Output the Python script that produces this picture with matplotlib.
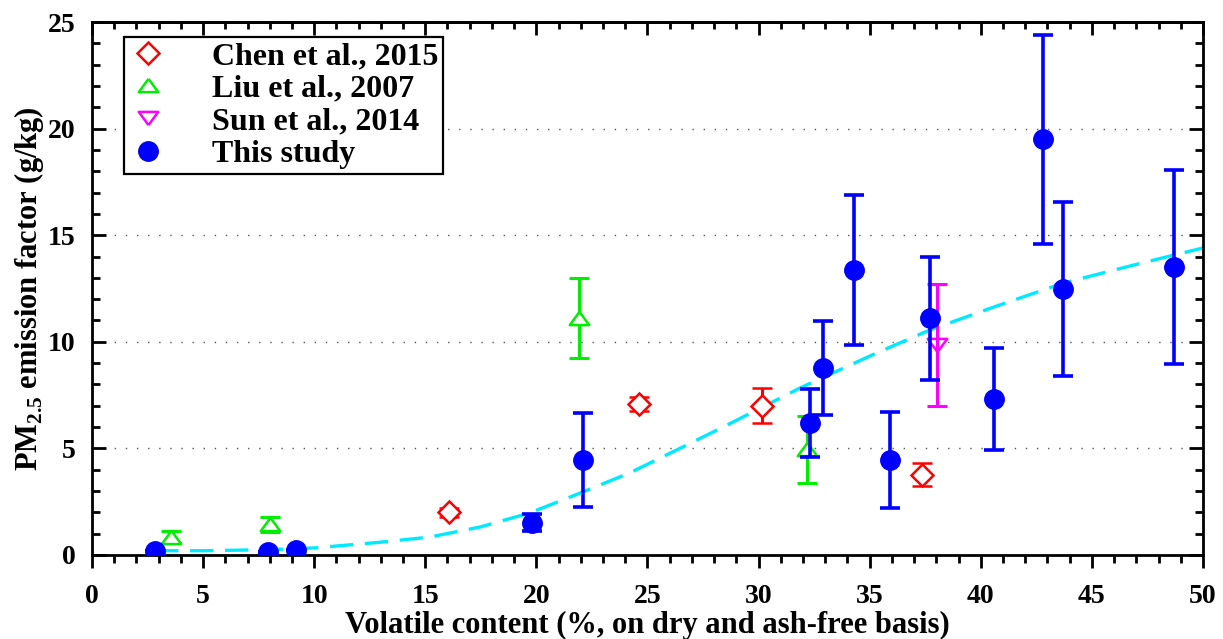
import numpy as np
import matplotlib
matplotlib.use('Agg')
import matplotlib.pyplot as plt
from matplotlib.lines import Line2D
from matplotlib.ticker import MultipleLocator

plt.rcParams['font.family'] = ['Liberation Serif', 'DejaVu Serif']
plt.rcParams['font.weight'] = 'bold'
plt.rcParams['mathtext.fontset'] = 'custom'
plt.rcParams['mathtext.rm'] = 'Liberation Serif:bold'
plt.rcParams['mathtext.bf'] = 'Liberation Serif:bold'

# ---- data ----
study_x = [2.84, 7.9, 9.2, 19.8, 22.1, 32.3, 32.9, 34.3, 35.9, 37.7, 40.6, 42.8, 43.7, 48.7]
study_y = [0.19, 0.14, 0.23, 1.52, 4.45, 6.2, 8.77, 13.37, 4.45, 11.1, 7.33, 19.5, 12.48, 13.5]
study_err = [0, 0, 0, 0.38, 2.2, 1.6, 2.2, 3.5, 2.25, 2.9, 2.4, 4.9, 4.07, 4.55]

chen_x = [16.05, 24.6, 30.15, 37.35]
chen_y = [2.0, 7.08, 7.0, 3.77]
chen_err = [0.2, 0.33, 0.82, 0.53]

liu_x = [3.55, 8.0, 21.9, 32.2]
liu_y = [0.85, 1.45, 11.1, 4.95]
liu_err = [0.28, 0.35, 1.87, 1.57]

sun_x = [38.03]
sun_y = [9.85]
sun_err = [2.86]

fit_x = [2.84, 5, 8, 10, 13, 15.2, 17.46, 19.7, 21.96, 24.2, 26.46, 28.5, 30.2,
         31.86, 35.3, 37.7, 40.5, 43.7, 46.5, 48.7, 50]
fit_y = [0.2, 0.2, 0.25, 0.33, 0.6, 0.84, 1.31, 1.97, 2.9, 3.85, 5.0, 6.05, 6.95,
         7.83, 9.47, 10.55, 11.6, 12.75, 13.5, 14.07, 14.4]

# ---- figure ----
fig = plt.figure(figsize=(12.23, 6.39), dpi=100)
ax = fig.add_axes([0.0752, 0.1315, 0.9084, 0.834])

# grid (horizontal dotted)
for gy in [5, 10, 15, 20]:
    ax.axhline(gy, color='#555555', linewidth=1.0, linestyle=(0, (1, 7)), zorder=0)

# fitted curve
ax.plot(fit_x, fit_y, color='#00eaff', linewidth=2.4, dashes=(7, 3.5), zorder=2)

# closed, slightly flattened triangles
tri_up = [(0, 0.68), (-1, -0.68), (1, -0.68), (0, 0.68)]
tri_dn = [(0, -0.68), (-1, 0.68), (1, 0.68), (0, -0.68)]

# literature data
ax.errorbar(chen_x, chen_y, yerr=chen_err, fmt='D', color='red', mfc='white',
            mec='red', ms=11, mew=1.8, elinewidth=2.2, capsize=7, capthick=2.2, zorder=3)
ax.errorbar(liu_x, liu_y, yerr=liu_err, fmt='none', ecolor='#00ee00',
            elinewidth=2.2, capsize=7, capthick=2.2, zorder=3)
ax.plot(liu_x, liu_y, linestyle='none', marker=tri_up, ms=14, mfc='white',
        mec='#00ee00', mew=1.8, zorder=4)
ax.errorbar(sun_x, sun_y, yerr=sun_err, fmt='none', ecolor='#ff00ff',
            elinewidth=2.2, capsize=7, capthick=2.2, zorder=3)
ax.plot(sun_x, sun_y, linestyle='none', marker=tri_dn, ms=14, mfc='none',
        mec='#ff00ff', mew=1.8, zorder=4)

# this study
ax.errorbar(study_x, study_y, yerr=study_err, fmt='o', color='blue', ms=14,
            elinewidth=2.6, capsize=7.5, capthick=2.6, zorder=5)

ax.set_xlim(0, 50)
ax.set_ylim(0, 25)
ax.xaxis.set_major_locator(MultipleLocator(5))
ax.xaxis.set_minor_locator(MultipleLocator(1))
ax.yaxis.set_major_locator(MultipleLocator(5))
ax.yaxis.set_minor_locator(MultipleLocator(1))

for s in ax.spines.values():
    s.set_linewidth(2.0)

ax.tick_params(axis='x', which='both', direction='out', top=False, width=2,
               labelsize=20, pad=12)
ax.tick_params(axis='x', which='major', length=9)
ax.tick_params(axis='x', which='minor', length=6)
ax.tick_params(axis='y', which='both', direction='in', right=True, width=2,
               labelsize=20, pad=12)
ax.tick_params(axis='y', which='major', length=10)
ax.tick_params(axis='y', which='minor', length=6)

# top ticks pointing inward
sec = ax.secondary_xaxis('top')
sec.xaxis.set_major_locator(MultipleLocator(5))
sec.xaxis.set_minor_locator(MultipleLocator(1))
sec.tick_params(axis='x', which='both', direction='in', width=2, labeltop=False)
sec.tick_params(axis='x', which='major', length=9)
sec.tick_params(axis='x', which='minor', length=5)
sec.spines['top'].set_linewidth(2.0)

for lab in ax.get_xticklabels() + ax.get_yticklabels():
    lab.set_fontweight('bold')

ax.set_xlabel('Volatile content (%, on dry and ash-free basis)', fontsize=22,
              fontweight='bold', labelpad=1)
ax.set_ylabel(r'PM$_{2.5}$ emission factor (g/kg)', fontsize=22,
              fontweight='bold', labelpad=1)

handles = [
    Line2D([], [], linestyle='none', marker='D', ms=11, mfc='white', mec='red', mew=1.8),
    Line2D([], [], linestyle='none', marker=tri_up, ms=14, mfc='white', mec='#00ee00', mew=1.8),
    Line2D([], [], linestyle='none', marker=tri_dn, ms=14, mfc='white', mec='#ff00ff', mew=1.8),
    Line2D([], [], linestyle='none', marker='o', ms=14, color='blue'),
]
labels = ['Chen et al., 2015', 'Liu et al., 2007', 'Sun et al., 2014', 'This study']
leg = ax.legend(handles, labels, loc='upper left', bbox_to_anchor=(0.0288, 0.972),
                borderaxespad=0, fancybox=False, edgecolor='black', framealpha=1,
                prop={'size': 23, 'weight': 'bold'}, handlelength=1.2,
                handletextpad=1.4, borderpad=0.15, labelspacing=0.1)
leg.get_frame().set_linewidth(1.6)

fig.savefig('out.png', dpi=100)
